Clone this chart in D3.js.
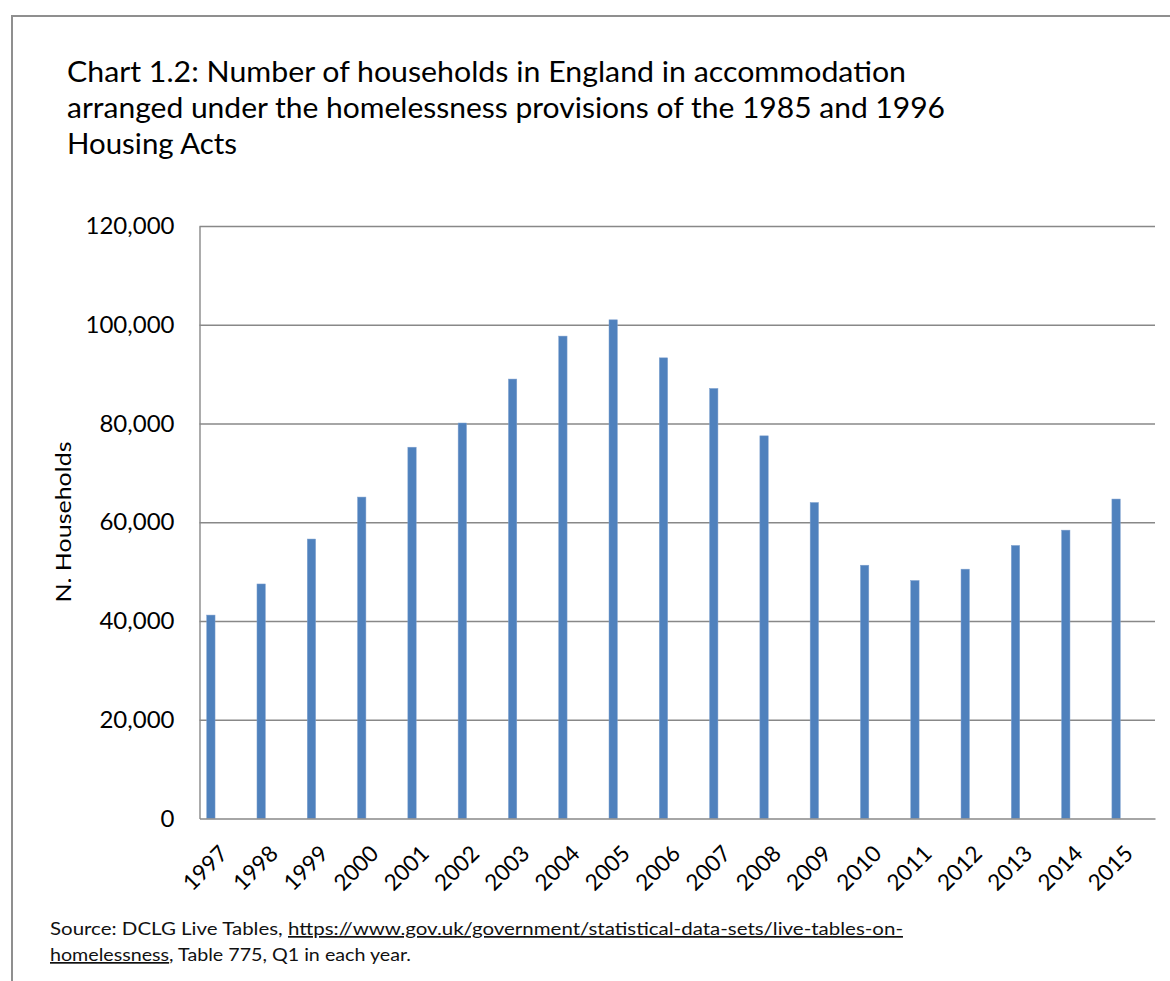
<!DOCTYPE html>
<html>
<head>
<meta charset="utf-8">
<script src="https://cdn.jsdelivr.net/npm/d3@7"></script>
<style>
  html, body { margin: 0; padding: 0; background: #fff; }
  svg { display: block; font-family: Lato, "Open Sans", sans-serif; }
</style>
</head>
<body>
<svg id="chart" width="1170" height="981"></svg>
<script>
// Households in temporary accommodation, Q1 of each year
const years = ["1997", "1998", "1999", "2000", "2001", "2002", "2003", "2004", "2005", "2006",
               "2007", "2008", "2009", "2010", "2011", "2012", "2013", "2014", "2015"];
const households = [41200, 47500, 56600, 65100, 75200, 80100, 89000, 97700, 101000, 93300,
                    87100, 77500, 64000, 51300, 48200, 50500, 55300, 58400, 64700];
const yTicks = [0, 20000, 40000, 60000, 80000, 100000, 120000];
const titleLines = [
  "Chart 1.2: Number of households in England in accommodation",
  "arranged under the homelessness provisions of the 1985 and 1996",
  "Housing Acts"
];

const svg = d3.select("#chart");
const plot = { left: 199.5, right: 1155, top: 226, bottom: 818.5 };
const gridColor = "#888888";

// outer frame (top and left edges)
svg.append("path")
  .attr("d", "M12,981 V16 H1170")
  .attr("fill", "none")
  .attr("stroke", "#8f8f8f")
  .attr("stroke-width", 2);

// title
const title = svg.append("g").attr("fill", "#000");
const titleWidths = [839, 878, 170];
titleLines.forEach((line, i) => {
  title.append("text")
    .attr("x", 67)
    .attr("y", 82 + i * 36)
    .attr("font-size", 28)
    .attr("textLength", titleWidths[i])
    .attr("lengthAdjust", "spacingAndGlyphs")
    .text(line);
});

const x = d3.scaleBand().domain(years).range([plot.left, plot.right]).padding(0);
const y = d3.scaleLinear().domain([0, 120000]).range([plot.bottom, plot.top]);

// horizontal gridlines
svg.append("g")
  .attr("transform", `translate(${plot.left},0)`)
  .call(d3.axisLeft(y).tickValues(yTicks.filter(v => v > 0)).tickSize(-(plot.right - plot.left)).tickFormat(""))
  .call(g => g.select(".domain").remove())
  .call(g => g.selectAll("line").attr("stroke", gridColor).attr("stroke-width", 1.4));

// bars
svg.append("g")
  .selectAll("rect")
  .data(years)
  .join("rect")
  .attr("x", d => x(d) + x.bandwidth() * 0.143)
  .attr("width", x.bandwidth() * 0.166)
  .attr("y", (d, i) => y(households[i]))
  .attr("height", (d, i) => y(0) - y(households[i]))
  .attr("fill", "#4F81BD")
  .attr("stroke", "#7FA1CF")
  .attr("stroke-width", 0.5);

// y axis
svg.append("g")
  .attr("transform", `translate(${plot.left},0)`)
  .call(d3.axisLeft(y).tickValues(yTicks).tickSize(0).tickPadding(25).tickFormat(d3.format(",")))
  .call(g => g.select(".domain").attr("stroke", gridColor).attr("stroke-width", 1.4))
  .call(g => g.selectAll("text").attr("font-size", 24).attr("fill", "#000")
    .attr("font-family", "Lato, 'Open Sans', sans-serif"));

// x axis
const xAxis = svg.append("g")
  .attr("transform", `translate(0,${plot.bottom})`)
  .call(d3.axisBottom(x).tickSize(0).tickFormat(d => d))
  .call(g => g.select(".domain").attr("stroke", gridColor).attr("stroke-width", 1.6));
xAxis.selectAll("text")
  .attr("font-size", 22.5)
  .attr("fill", "#000")
  .attr("font-family", "Lato, 'Open Sans', sans-serif")
  .attr("text-anchor", "end")
  .attr("y", 0)
  .attr("dy", "0.35em")
  .attr("transform", "translate(-1,31) rotate(-45)");

// y axis title
svg.append("text")
  .attr("transform", "translate(71,522) rotate(-90)")
  .attr("text-anchor", "middle")
  .attr("font-size", 21)
  .attr("textLength", 161)
  .attr("lengthAdjust", "spacingAndGlyphs")
  .text("N. Households");

// source note
const note = svg.append("g").attr("font-size", 17).attr("fill", "#111");
const l1 = note.append("text").attr("x", 50).attr("y", 935)
  .attr("textLength", 853).attr("lengthAdjust", "spacingAndGlyphs");
l1.append("tspan").text("Source: DCLG Live Tables, ");
l1.append("tspan").attr("text-decoration", "underline")
  .text("https://www.gov.uk/government/statistical-data-sets/live-tables-on-");
const l2 = note.append("text").attr("x", 50).attr("y", 961)
  .attr("textLength", 361).attr("lengthAdjust", "spacingAndGlyphs");
l2.append("tspan").attr("text-decoration", "underline").text("homelessness");
l2.append("tspan").text(",  Table 775, Q1 in each year.");
</script>
</body>
</html>
